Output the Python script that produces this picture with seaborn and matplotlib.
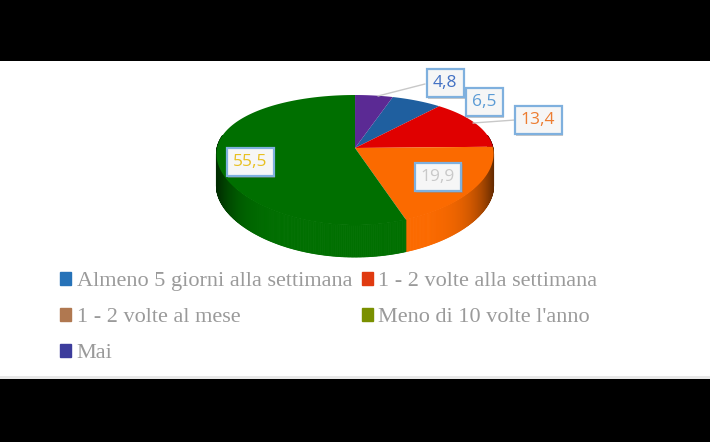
import numpy as np
import matplotlib
matplotlib.use("Agg")
import matplotlib.pyplot as plt
import matplotlib.patheffects as pe
from matplotlib.patches import Patch, Rectangle
import seaborn as sns

# data, clockwise from the blue slice
CATEGORIES = ["Almeno 5 giorni alla settimana", "1 - 2 volte alla settimana",
              "1 - 2 volte al mese", "Meno di 10 volte l'anno", "Mai"]
VALUES = [6.5, 13.4, 19.9, 55.5, 4.8]
PIE_COLORS = ["#1f5f9f", "#e00000", "#fb6a00", "#006f00", "#5b2a94"]
LEGEND_COLORS = ["#2672b8", "#e03a10", "#b07850", "#7a9000", "#3c3c9c"]
LABEL_COLORS = ["#5b9bd5", "#ed7d31", "#c9c9c9", "#e8c020", "#4472c4"]
LABEL_POS = [(484, 102), (538, 120), (438, 177), (250, 162), (445, 83)]

# pie geometry in image pixels, tilted with a perspective
CX, CY = 355, 148
RX, RY, TILT = 138, 62.8, 0.185
DEPTH = 32
START = 0.048 * 360


def rim(theta, drop=0):
    t = np.radians(theta)
    k = 1 + TILT * np.cos(t)
    return CX + RX * np.sin(t) / np.sqrt(k), CY - RY * np.cos(t) / k + drop


sns.set_theme(style="white")
plt.rcParams["font.family"] = ["Liberation Serif", "DejaVu Serif"]

fig = plt.figure(figsize=(7.1, 4.42), dpi=100)
ax = fig.add_axes([0, 0, 1, 1])
ax.set_xlim(0, 710)
ax.set_ylim(442, 0)
ax.axis("off")

# black bands of the screenshot
ax.add_patch(Rectangle((0, 0), 710, 61, color="black", lw=0))
ax.add_patch(Rectangle((0, 376), 710, 3, color="#e8e8e8", lw=0))
ax.add_patch(Rectangle((0, 379), 710, 63, color="black", lw=0))

bounds = START + np.cumsum([0] + VALUES) * 360 / sum(VALUES)

# side wall, drawn in thin strips so it darkens towards the edges
for i, color in enumerate(PIE_COLORS):
    a0, a1 = bounds[i], bounds[i + 1]
    lo, hi = max(a0, 78), min(a1, 282)
    if hi <= lo:
        continue
    steps = np.linspace(lo, hi, int(hi - lo) * 2 + 2)
    base = np.array(matplotlib.colors.to_rgb(color))
    for s0, s1 in zip(steps[:-1], steps[1:]):
        th = np.array([s0, s1])
        x0, y0 = rim(th)
        x1, y1 = rim(th[::-1], DEPTH)
        edge = abs((x0.mean() - CX) / RX)
        shade = 1 - 0.6 * edge ** 7 if edge > 0.55 else 1
        c = base * shade
        ax.fill(np.r_[x0, x1], np.r_[y0, y1], facecolor=c, edgecolor=c, lw=0.6)

# top face
for i, color in enumerate(PIE_COLORS):
    th = np.linspace(bounds[i], bounds[i + 1], 120)
    x, y = rim(th)
    ax.fill(np.r_[CX, x], np.r_[CY, y], color=color, lw=0)

# leader lines
ax.plot([378, 425], [96, 84], color="#c8c8c8", lw=1)
ax.plot([473, 515], [123, 120], color="#c8c8c8", lw=1)

# data labels
for val, col, (lx, ly) in zip(VALUES, LABEL_COLORS, LABEL_POS):
    txt = f"{val:.1f}".replace(".", ",")
    t = ax.text(lx, ly, txt, color=col, fontsize=12.5, ha="center", va="center",
                family=["Open Sans"],
                bbox=dict(boxstyle="square,pad=0.36", fc="#f6f6f6", ec="#7fb0de", lw=1.6))
    t.get_bbox_patch().set_path_effects(
        [pe.withSimplePatchShadow(offset=(1.2, -1.2), shadow_rgbFace="#888888", alpha=0.45)])

# legend fills by column, so the order goes down then across
order = [0, 2, 4, 1, 3]
handles = [Patch(color=LEGEND_COLORS[i], label=CATEGORIES[i]) for i in order]
ax.legend(handles=handles, ncol=2, loc="upper left", bbox_to_anchor=(60 / 710, 1 - 272 / 442),
          frameon=False, fontsize=16.0, labelcolor="#9a9a9a", handlelength=0.5, handleheight=0.5,
          handletextpad=0.25, columnspacing=0.42, labelspacing=0.76, borderpad=0, borderaxespad=0)

fig.savefig("out.png", dpi=100)
